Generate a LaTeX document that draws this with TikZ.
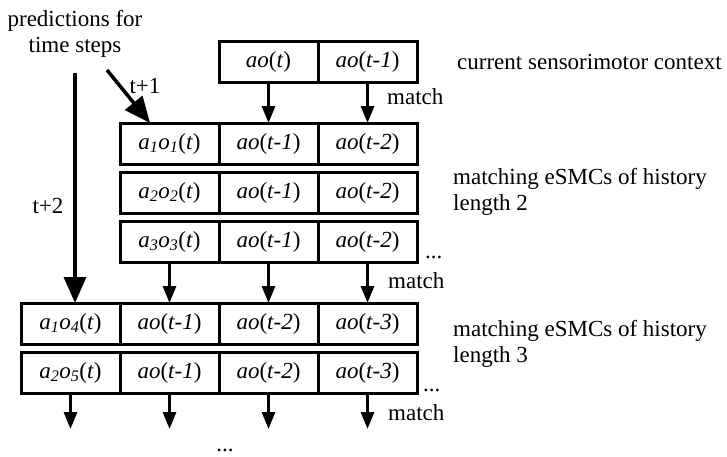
\documentclass[tikz,border=0pt]{standalone}
\usepackage{fontspec}
\setmainfont{Liberation Serif}
\usepackage{tikz}
\usetikzlibrary{positioning}
\usetikzlibrary{arrows.meta}
\tikzset{
cell/.style={rectangle, draw, line width=3pt, outer sep=0pt, inner sep=0pt, minimum width=99pt, minimum height=41pt, text=black},
match_arrow/.style={line width=3pt, -{Triangle[width=13pt,length=17pt]}},
time_arrow/.style={line width=3.5pt, -{Triangle[width=22pt,length=26pt]}},
message/.style={rectangle, inner sep=0pt, text=black, align=left}
}
\newcommand{\aoat}[1]{\textit{ao}(\textit{#1})}
\newcommand{\aoidx}[2]{\textit{a\textsubscript{#1}o\textsubscript{#2}}(\textit{t})}

\begin{document}
\begin{tikzpicture}[x=1pt, y=-1pt, font=\fontsize{23}{26.5}\selectfont]
    \useasboundingbox (0,0) rectangle (727,456);

    % current context
    \node[cell, anchor=north west] (cur_1) at (219,41) {\aoat{t}};
    \node[cell] (cur_2) [right=0pt of cur_1] {\aoat{t-1}};
    \node[message, anchor=west] (cur_text) at (457,62) {current sensorimotor context};

    % eSMCs of history length 2
    \node[cell, anchor=north west] (h2_1_1) at (120,123) {\aoidx{1}{1}};
    \node[cell] (h2_1_2) [right=0pt of h2_1_1] {\aoat{t-1}};
    \node[cell] (h2_1_3) [right=0pt of h2_1_2] {\aoat{t-2}};
    \node[cell] (h2_2_1) [below=8pt of h2_1_1] {\aoidx{2}{2}};
    \node[cell] (h2_2_2) [right=0pt of h2_2_1] {\aoat{t-1}};
    \node[cell] (h2_2_3) [right=0pt of h2_2_2] {\aoat{t-2}};
    \node[cell] (h2_3_1) [below=8pt of h2_2_1] {\aoidx{3}{3}};
    \node[cell] (h2_3_2) [right=0pt of h2_3_1] {\aoat{t-1}};
    \node[cell] (h2_3_3) [right=0pt of h2_3_2] {\aoat{t-2}};
    \node[message, anchor=base west] (h2_dots) at ([xshift=8pt, yshift=4pt]h2_3_3.south east) {...};
    \node[message, anchor=west] (h2_text) at (453,192) {matching eSMCs of history\\length 2};

    % eSMCs of history length 3
    \node[cell, anchor=north west] (h3_1_1) at (21,303) {\aoidx{1}{4}};
    \node[cell] (h3_1_2) [right=0pt of h3_1_1] {\aoat{t-1}};
    \node[cell] (h3_1_3) [right=0pt of h3_1_2] {\aoat{t-2}};
    \node[cell] (h3_1_4) [right=0pt of h3_1_3] {\aoat{t-3}};
    \node[cell] (h3_2_1) [below=8pt of h3_1_1] {\aoidx{2}{5}};
    \node[cell] (h3_2_2) [right=0pt of h3_2_1] {\aoat{t-1}};
    \node[cell] (h3_2_3) [right=0pt of h3_2_2] {\aoat{t-2}};
    \node[cell] (h3_2_4) [right=0pt of h3_2_3] {\aoat{t-3}};
    \node[message, anchor=base west] (h3_dots) at ([xshift=6pt, yshift=2pt]h3_2_4.south east) {...};
    \node[message, anchor=west] (h3_text) at (453,344) {matching eSMCs of history\\length 3};

    % matching arrows
    \draw[match_arrow] (cur_1) -- (h2_1_2);
    \draw[match_arrow] (cur_2) -- (h2_1_3);
    \node[message, anchor=west] (match_1) at (387,97) {match};
    \draw[match_arrow] (h2_3_1) -- (h3_1_2);
    \draw[match_arrow] (h2_3_2) -- (h3_1_3);
    \draw[match_arrow] (h2_3_3) -- (h3_1_4);
    \node[message, anchor=west] (match_2) at (388,281) {match};
    \foreach \i in {1,...,4} {
        \coordinate (end_\i) at ([yshift=-36pt]h3_2_\i.south);
        \draw[match_arrow] (h3_2_\i) -- (end_\i);
    }
    \node[message, anchor=west] (match_3) at (388,413) {match};
    \node[message, anchor=base] (more_dots) at (225,451) {...};

    % predictions
    \node[message, align=center] (pred) at (75,34) {predictions for\\time steps};
    \coordinate (t1_start) at (107,70);
    \coordinate (t2_start) at (75,73);
    \draw[time_arrow] (t1_start) -- ([xshift=30pt]h2_1_1.north west);
    \node[message] (t1_label) at (145,86) {t+1};
    \draw[time_arrow] (t2_start) -- (t2_start |- h3_1_1.north);
    \node[message] (t2_label) at (48,206) {t+2};
\end{tikzpicture}
\end{document}
